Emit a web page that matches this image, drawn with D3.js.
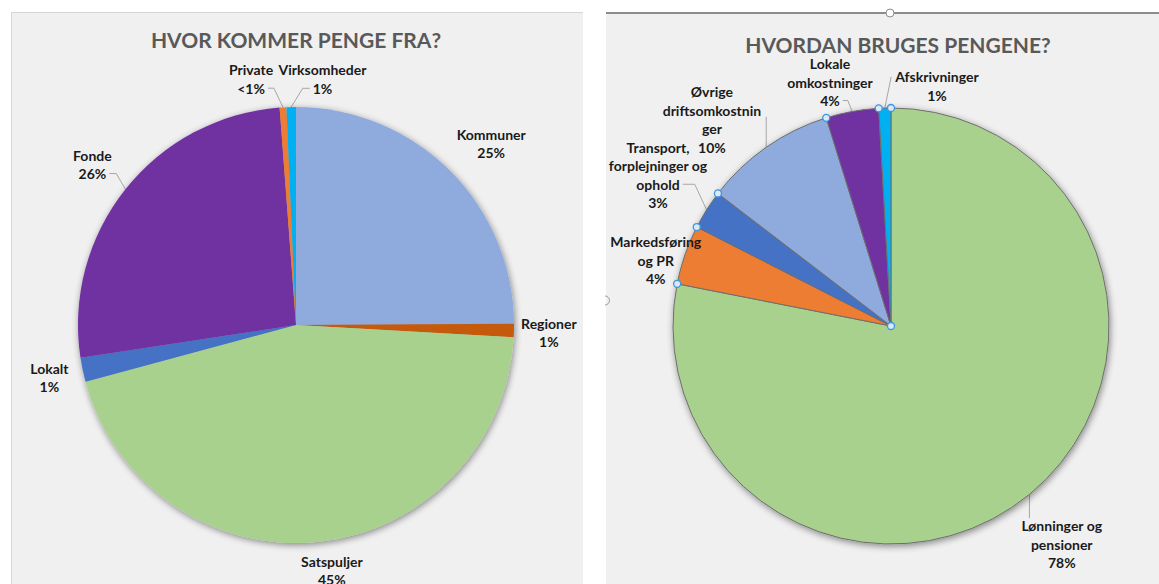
<!DOCTYPE html>
<html>
<head>
<meta charset="utf-8">
<script src="https://cdn.jsdelivr.net/npm/d3@7"></script>
<style>
  body { margin: 0; background: #ffffff; }
  svg { display: block; }
</style>
</head>
<body>
<div id="diagram"></div>
<script>
// Hvor kommer pengene fra (andele i procent, aflæst)
const kilder = ["Kommuner", "Regioner", "Satspuljer", "Lokalt", "Fonde", "Private", "Virksomheder"];
const kilderAndel = [24.9, 1.0, 44.9, 1.8, 26.2, 0.5, 0.7];
const kilderProcent = ["25%", "1%", "45%", "1%", "26%", "<1%", "1%"];
const kilderLinjer = [["Kommuner"], ["Regioner"], ["Satspuljer"], ["Lokalt"], ["Fonde"], ["Private"], ["Virksomheder"]];

// Hvordan bruges pengene
const udgifter = ["Lønninger og pensioner", "Markedsføring og PR", "Transport, forplejninger og ophold",
  "Øvrige driftsomkostninger", "Lokale omkostninger", "Afskrivninger"];
const udgifterAndel = [78.1, 4.4, 2.9, 9.8, 3.9, 0.9];
const udgifterProcent = ["78%", "4%", "3%", "10%", "4%", "1%"];
const udgifterLinjer = [["Lønninger og", "pensioner"], ["Markedsføring", "og PR"], ["Transport,", "forplejninger og", "ophold"],
  ["Øvrige", "driftsomkostnin", "ger"], ["Lokale", "omkostninger"], ["Afskrivninger"]];

const titler = ["HVOR KOMMER PENGE FRA?", "HVORDAN BRUGES PENGENE?"];

const lysBlaa = "#8faadc", moerkOrange = "#c55a11", groen = "#a9d18e", blaa = "#4472c4",
  lilla = "#7030a0", orange = "#ed7d31", cyan = "#00b0f0";

const bredde = 1159, hoejde = 584;
const skrift = "Lato, 'Open Sans', sans-serif";

const $svg = d3.select("#diagram")
  .append("svg")
  .attr("width", bredde)
  .attr("height", hoejde);

// skygge under cirklerne
const defs = $svg.append("defs");
const skygge = defs.append("filter")
  .attr("id", "skygge")
  .attr("x", "-20%").attr("y", "-20%")
  .attr("width", "140%").attr("height", "140%");
skygge.append("feGaussianBlur").attr("in", "SourceAlpha").attr("stdDeviation", 3.5).attr("result", "blur");
skygge.append("feOffset").attr("in", "blur").attr("dx", 1).attr("dy", 2).attr("result", "flyt");
skygge.append("feComponentTransfer").attr("in", "flyt").attr("result", "svag")
  .append("feFuncA").attr("type", "linear").attr("slope", 0.45);
const merge = skygge.append("feMerge");
merge.append("feMergeNode").attr("in", "svag");
merge.append("feMergeNode").attr("in", "SourceGraphic");

// venstre panel
$svg.append("rect")
  .attr("x", 11).attr("y", 12)
  .attr("width", 572).attr("height", hoejde - 12)
  .attr("fill", "#f0f0f0");
$svg.append("path")
  .attr("d", `M11.5,${hoejde} V12.5 H583`)
  .attr("fill", "none")
  .attr("stroke", "#d6d6d6");

// højre panel
$svg.append("rect")
  .attr("x", 606).attr("y", 13)
  .attr("width", bredde - 606).attr("height", hoejde - 13)
  .attr("fill", "#f0f0f0");
$svg.append("line")
  .attr("x1", 606).attr("x2", bredde)
  .attr("y1", 13).attr("y2", 13)
  .attr("stroke", "#8c8c8c")
  .attr("stroke-width", 2);
$svg.append("circle")
  .attr("cx", 890).attr("cy", 13).attr("r", 4)
  .attr("fill", "#ffffff")
  .attr("stroke", "#8c8c8c");
$svg.append("path")
  .attr("d", "M605,296 A4.5,4.5 0 0 1 605,305")
  .attr("fill", "none")
  .attr("stroke", "#9a9a9a");

const tegnCirkel = (opsaet) => {
  const data = opsaet.andele.map((v, i) => ({ v: v, i: i }));
  const pie = d3.pie().sort(null).value(d => d.v);
  const skiver = pie(data);
  const arc = d3.arc().innerRadius(0).outerRadius(opsaet.r);

  const g = $svg.append("g")
    .attr("transform", `translate(${opsaet.cx},${opsaet.cy})`);

  g.append("g")
    .attr("filter", "url(#skygge)")
    .selectAll("path")
    .data(skiver)
    .join("path")
    .attr("d", arc)
    .attr("fill", d => opsaet.farver[d.data.i])
    .attr("stroke", opsaet.kant || "none")
    .attr("stroke-width", opsaet.kant ? 1 : 0);

  $svg.append("text")
    .attr("x", opsaet.titelX)
    .attr("y", opsaet.titelY)
    .attr("text-anchor", "middle")
    .attr("font-family", skrift)
    .attr("font-weight", "bold")
    .attr("font-size", 21)
    .attr("fill", "#595959")
    .text(opsaet.titel);

  const lh = 18.5;
  const R = opsaet.r + 32;
  skiver.forEach((d, i) => {
    const vinkel = (d.startAngle + d.endAngle) / 2;
    const flyt = opsaet.flyt[i];
    const mx = R * Math.sin(vinkel) + flyt[0];
    const my = -R * Math.cos(vinkel) + flyt[1];
    const linjer = opsaet.linjer[i].concat([opsaet.procent[i]]);
    const etiket = g.append("g");
    const tekster = linjer.map((t, j) => etiket.append("text")
      .attr("x", mx)
      .attr("y", my + (j - (linjer.length - 1) / 2) * lh)
      .attr("text-anchor", "middle")
      .attr("dominant-baseline", "central")
      .attr("font-family", skrift)
      .attr("font-weight", "bold")
      .attr("font-size", 14)
      .attr("fill", "#1a1a1a")
      .text(t));

    const leder = opsaet.ledere[i];
    if (!leder) return;
    const p0 = [opsaet.r * Math.sin(vinkel), -opsaet.r * Math.cos(vinkel)];
    const boks = tekster[leder.linje].node().getBBox();
    const cy = boks.y + boks.height / 2;
    let punkter;
    if (leder.type === "v") {
      const ly = p0[1] > cy ? boks.y + boks.height - 2 : boks.y + 1;
      punkter = [p0, [p0[0], ly]];
    } else if (leder.type === "r") {
      const a = [boks.x + boks.width + 3, cy];
      punkter = [p0, [a[0] + leder.e, cy], a];
    } else {
      const a = [boks.x - 3, cy];
      punkter = [p0, [a[0] - leder.e, cy], a];
    }
    g.insert("path", ":first-child")
      .attr("d", d3.line()(punkter))
      .attr("fill", "none")
      .attr("stroke", "#a6a6a6")
      .attr("stroke-width", 1);
  });

  if (opsaet.haandtag) {
    const haandtag = skiver.map(d => [opsaet.r * Math.sin(d.startAngle), -opsaet.r * Math.cos(d.startAngle)]);
    haandtag.push([0, 0]);
    g.selectAll("circle.haandtag")
      .data(haandtag)
      .join("circle")
      .attr("class", "haandtag")
      .attr("cx", d => d[0])
      .attr("cy", d => d[1])
      .attr("r", 3.5)
      .attr("fill", "#dbe9f7")
      .attr("stroke", "#3d94e0")
      .attr("stroke-width", 1.3);
  }
};

tegnCirkel({
  cx: 296, cy: 325, r: 218,
  andele: kilderAndel,
  procent: kilderProcent,
  linjer: kilderLinjer,
  farver: [lysBlaa, moerkOrange, groen, blaa, lilla, orange, cyan],
  titel: titler[0], titelX: 296, titelY: 48,
  flyt: [[19, -4], [3, 1], [10, -3], [-2, 1], [-8, -5], [-30, 3.5], [32, 4]],
  ledere: [null, null, null, null, { type: "r", linje: 1, e: 7 }, { type: "r", linje: 1, e: 6 }, { type: "l", linje: 1, e: 7 }]
});

tegnCirkel({
  cx: 891, cy: 326, r: 218,
  andele: udgifterAndel,
  procent: udgifterProcent,
  linjer: udgifterLinjer,
  farver: [groen, orange, blaa, lysBlaa, lilla, cyan],
  kant: "#6e6e6e",
  haandtag: true,
  titel: titler[1], titelX: 898, titelY: 53,
  flyt: [[12, 25], [1, 16], [-21.5, -17.7], [-36, -1.5], [-16.5, 2], [53, 10]],
  ledere: [{ type: "v", linje: 0 }, null, { type: "r", linje: 2, e: 12 }, { type: "v", linje: 1 },
    { type: "r", linje: 2, e: 5 }, { type: "l", linje: 0, e: 0 }]
});
</script>
</body>
</html>
